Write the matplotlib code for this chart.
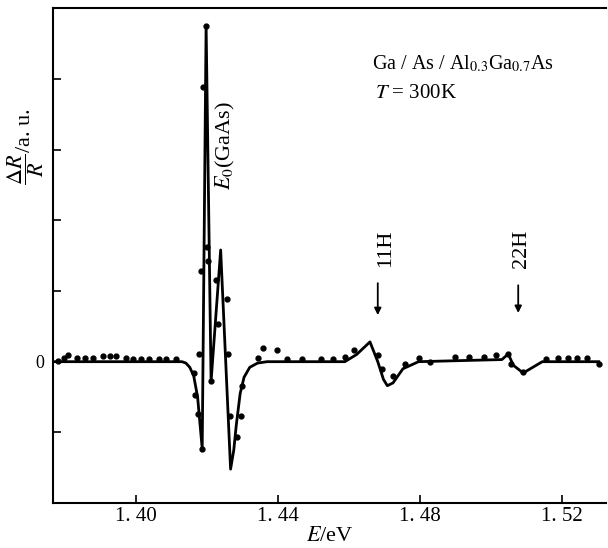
import matplotlib.pyplot as plt

plt.rcParams["font.family"] = ["Liberation Serif", "DejaVu Serif"]
plt.rcParams["mathtext.fontset"] = "stix"

# fitted curve (E in eV, dR/R in a.u.)
curve_e = [1.3765, 1.4129, 1.4140, 1.4151, 1.4162, 1.4173, 1.4186, 1.4197,
           1.4211, 1.4238, 1.4266, 1.4275, 1.4282, 1.4293, 1.4304, 1.4320,
           1.4342, 1.4369, 1.4588, 1.4621, 1.4659, 1.4681, 1.4697, 1.4708,
           1.4724, 1.4752, 1.4796, 1.5031, 1.5049, 1.5063, 1.5091, 1.5118,
           1.5145, 1.5304]
curve_r = [0.0, 0.0, -0.02, -0.08, -0.2, -0.5, -1.23, 4.75,
           -0.28, 1.58, -1.52, -1.25, -0.9, -0.45, -0.22, -0.08,
           -0.02, 0.0, 0.0, 0.1, 0.28, 0.0, -0.25, -0.34,
           -0.3, -0.1, 0.0, 0.03, 0.11, -0.05, -0.16, -0.08,
           0.0, 0.0]

# measured points
dots_e = [1.3779, 1.3796, 1.3807, 1.3834, 1.3856, 1.3878, 1.3905, 1.3927,
          1.3943, 1.3970, 1.3992, 1.4014, 1.4036, 1.4063, 1.4085, 1.4113,
          1.4162, 1.4167, 1.4175, 1.4178, 1.4186, 1.4183, 1.4188, 1.4197,
          1.4200, 1.4203, 1.4211, 1.4225, 1.4230, 1.4255, 1.4260, 1.4263,
          1.4284, 1.4295, 1.4298, 1.4342, 1.4358, 1.4397, 1.4424, 1.4468,
          1.4522, 1.4555, 1.4588, 1.4615, 1.4681, 1.4692, 1.4725, 1.4757,
          1.4796, 1.4828, 1.4899, 1.4938, 1.4981, 1.5014, 1.5047, 1.5058,
          1.5091, 1.5156, 1.5189, 1.5216, 1.5244, 1.5271, 1.5304]
dots_r = [0.01, 0.05, 0.09, 0.05, 0.05, 0.05, 0.08, 0.08,
          0.08, 0.05, 0.04, 0.04, 0.04, 0.04, 0.04, 0.04,
          -0.16, -0.47, -0.74, 0.11, -1.23, 1.28, 3.89, 4.75,
          1.62, 1.43, -0.28, 1.16, 0.53, 0.88, 0.11, -0.77,
          -1.06, -0.77, -0.35, 0.05, 0.2, 0.16, 0.04, 0.04,
          0.04, 0.04, 0.06, 0.16, 0.09, -0.11, -0.2, -0.03,
          0.05, -0.01, 0.06, 0.06, 0.06, 0.09, 0.11, -0.03,
          -0.15, 0.04, 0.05, 0.05, 0.05, 0.05, -0.03]

xticks = [1.40, 1.44, 1.48, 1.52]
xtick_labels = ["1. 40", "1. 44", "1. 48", "1. 52"]

fig = plt.figure(figsize=(6.08, 5.48), dpi=100)
ax = fig.add_axes([0.087, 0.082, 0.91, 0.903])

ax.plot(curve_e, curve_r, "k-", linewidth=2.0)
ax.plot(dots_e, dots_r, "ko", markersize=3.5)

ax.set_xlim(1.3765, 1.5325)
ax.set_ylim(-2, 5)
ax.set_xticks(xticks)
ax.set_xticklabels(xtick_labels, fontsize=15)
ax.set_yticks([-1, 0, 1, 2, 3, 4])
ax.set_yticklabels(["", "0", "", "", "", ""], fontsize=13)
ax.tick_params(direction="in", length=6, width=1.2)
ax.tick_params(axis="x", pad=3)
ax.tick_params(axis="y", pad=6)
ax.spines["right"].set_visible(False)
for s in ["left", "bottom", "top"]:
    ax.spines[s].set_linewidth(1.5)

ax.text(0.5, -0.068, "$E$/eV", transform=ax.transAxes, ha="center", va="center", fontsize=16)
ax.text(-0.05, 0.72, r"$\dfrac{\Delta R}{R}$/a. u.", transform=ax.transAxes,
        rotation=90, ha="center", va="center", fontsize=16)

ax.text(1.4664, 4.21, r"Ga / As / Al$_{0.3}$Ga$_{0.7}$As", ha="left", va="center", fontsize=14.5)
ax.text(1.4672, 3.80, r"$T$ = 300K", ha="left", va="center", fontsize=15)
ax.text(1.4252, 3.06, r"$E_0$(GaAs)", rotation=90, ha="center", va="center", fontsize=16)

ax.text(1.4703, 1.6, "11H", rotation=90, ha="center", va="center", fontsize=16)
ax.text(1.5087, 1.6, "22H", rotation=90, ha="center", va="center", fontsize=16)
ax.annotate("", xy=(1.4681, 0.62), xytext=(1.4681, 1.15),
            arrowprops=dict(arrowstyle="-|>", color="k", lw=1.3, mutation_scale=10))
ax.annotate("", xy=(1.5077, 0.65), xytext=(1.5077, 1.12),
            arrowprops=dict(arrowstyle="-|>", color="k", lw=1.3, mutation_scale=10))

fig.savefig("out.png", dpi=100)
